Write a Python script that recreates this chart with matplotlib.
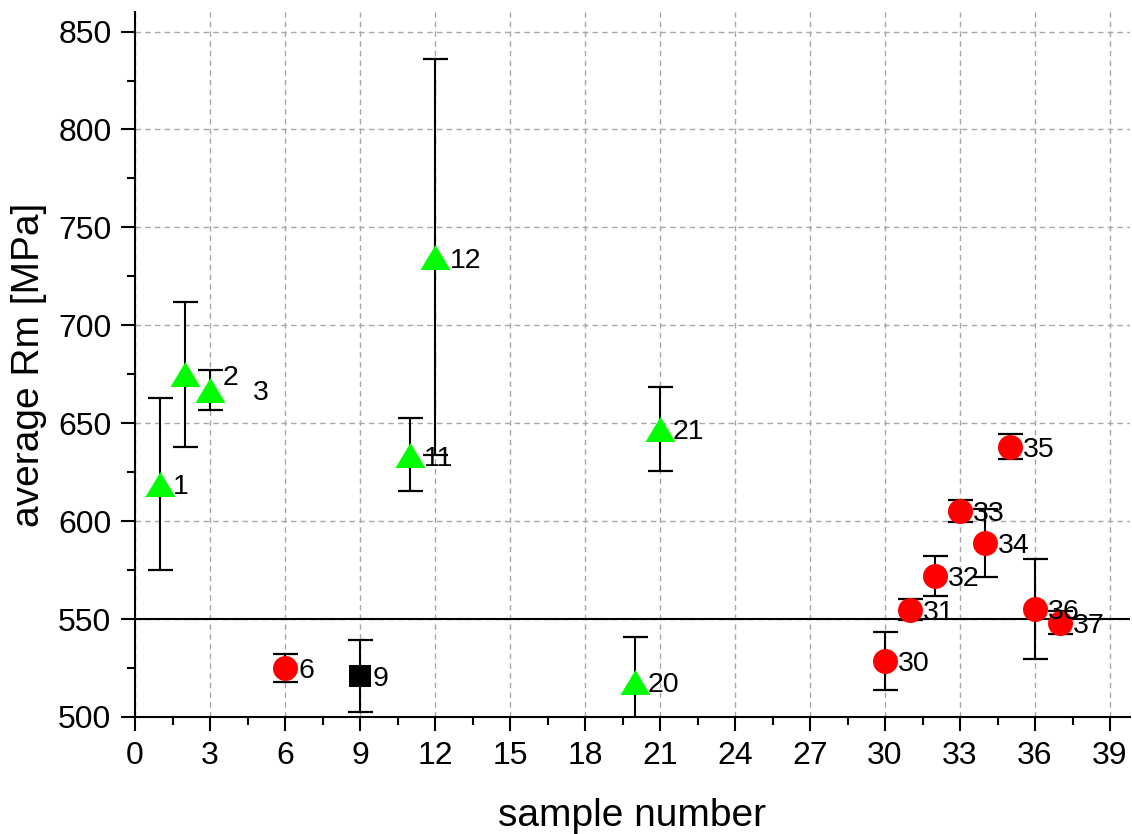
import matplotlib
matplotlib.use("Agg")
import matplotlib.pyplot as plt
from matplotlib.ticker import MultipleLocator

plt.rcParams['font.family'] = ['Liberation Sans', 'DejaVu Sans']

# Average tensile strength per sample, grouped by marker type
tri_x = [1, 2, 3, 11, 12, 20, 21]
tri_y = [619, 675, 667, 634, 735, 518, 647]
tri_err = [44, 37, 10, 18.5, 101, 23, 21.5]

circ_x = [6, 30, 31, 32, 33, 34, 35, 36, 37]
circ_y = [525, 528.5, 554.8, 572, 605.3, 589, 637.9, 555.1, 548.2]
circ_err = [7, 14.7, 5.3, 10.2, 5.7, 17.4, 6.4, 25.5, 6]

sq_x = [9]
sq_y = [521]
sq_err = [18.3]

reference_level = 550

# Sample labels: (text, anchor x, anchor y)
labels = [("1", 1, 619), ("2", 2, 675), ("3", 3, 667), ("6", 6, 525),
          ("9", 9, 521), ("11", 11, 634), ("12", 12, 735), ("20", 20, 518),
          ("21", 21, 647), ("30", 30, 528.5), ("31", 31, 554.8),
          ("32", 32, 572), ("33", 33, 605.3), ("34", 34, 589),
          ("35", 35, 637.9), ("36", 36, 555.1), ("37", 37, 548.2)]

# Text offsets in points (right, up) from each anchor
default_offset = (9.4, -2.2)
special_offsets = {"2": (27.4, -2.9), "3": (31.0, -2.2), "11": (10.0, -3.0),
                   "12": (11.0, -3.0)}

fig = plt.figure(figsize=(11.32, 8.34), dpi=100)
ax = fig.add_axes([135 / 1132, 117 / 834, 995 / 1132, 705 / 834])

ax.set_xlim(0, 39.8)
ax.set_ylim(500, 860)

for side in ("top", "right"):
    ax.spines[side].set_visible(False)
for side in ("left", "bottom"):
    ax.spines[side].set_linewidth(1.5)

ax.xaxis.set_major_locator(MultipleLocator(3))
ax.xaxis.set_minor_locator(MultipleLocator(1.5))
ax.yaxis.set_major_locator(MultipleLocator(50))
ax.yaxis.set_minor_locator(MultipleLocator(25))
ax.tick_params(which="major", direction="out", length=10, width=1.5,
               labelsize=23, pad=7)
ax.tick_params(which="minor", direction="out", length=5.5, width=1.5)

ax.grid(True, which="major", color="#a8a8a8", linestyle=(0, (4, 3)),
        linewidth=1.0, zorder=0)
ax.set_axisbelow(True)

ax.axhline(reference_level, color="black", linewidth=1.5, zorder=1)

tri_marker = [(-1.2, -1.0), (1.2, -1.0), (0.0, 1.0), (-1.2, -1.0)]

err_kw = dict(fmt="none", ecolor="black", elinewidth=1.5, capsize=9,
              capthick=1.6, zorder=2)
ax.errorbar(tri_x, tri_y, yerr=tri_err, **err_kw)
ax.errorbar(circ_x, circ_y, yerr=circ_err, **err_kw)
ax.errorbar(sq_x, sq_y, yerr=sq_err, **err_kw)

ax.plot(tri_x, tri_y, linestyle="none", marker=tri_marker, markersize=21.6,
        color="#00ff00", markeredgewidth=0, zorder=3, clip_on=False)
ax.plot(circ_x, circ_y, linestyle="none", marker="o", markersize=18,
        color="#ff0000", markeredgewidth=0, zorder=3, clip_on=False)
ax.plot(sq_x, sq_y, linestyle="none", marker="s", markersize=15.6,
        color="black", markeredgewidth=0, zorder=3, clip_on=False)

for text, lx, ly in labels:
    dx, dy = special_offsets.get(text, default_offset)
    ax.annotate(text, (lx, ly), xytext=(dx, dy), textcoords="offset points",
                ha="left", va="center", fontsize=20.5, color="black", zorder=4)

ax.set_xlabel("sample number", fontsize=28, labelpad=20)
ax.set_ylabel("average Rm [MPa]", fontsize=28, labelpad=8)

fig.savefig("out.png", dpi=100)
